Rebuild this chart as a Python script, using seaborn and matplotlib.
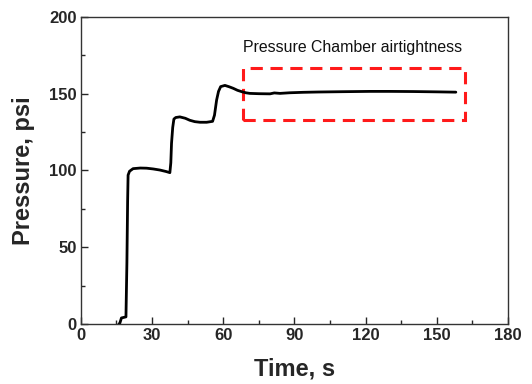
import matplotlib
matplotlib.use("Agg")
import matplotlib.pyplot as plt
import seaborn as sns
import pandas as pd
from matplotlib.patches import Rectangle
from matplotlib.ticker import MultipleLocator

# values
time_s = [16.0, 16.4, 17.1, 19.0, 19.4, 19.7, 19.9, 20.5, 22.0, 25.0, 27.7, 30.5,
          33.3, 36.0, 37.5, 37.9, 38.2, 38.7, 39.2, 40.0, 41.7, 44.0, 45.9, 48.0,
          50.2, 53.0, 55.5, 56.3, 57.2, 58.0, 58.9, 60.7, 62.5, 64.2, 66.0, 67.8,
          69.5, 71.2, 75.0, 79.7, 81.5, 83.9, 88.0, 93.7, 100.0, 110.0, 121.8,
          130.0, 140.0, 150.0, 158.0]
pressure_psi = [0.0, 0.5, 4.0, 4.7, 40.0, 80.0, 97.0, 99.5, 101.2, 101.6, 101.5, 101.0,
                100.3, 99.3, 98.6, 105.0, 117.7, 128.0, 133.5, 134.5, 134.9, 134.0, 132.7, 131.8,
                131.4, 131.4, 132.0, 136.0, 145.9, 151.5, 154.6, 155.4, 154.5, 153.5, 152.2, 151.3,
                150.6, 150.2, 150.0, 149.9, 150.5, 150.2, 150.6, 150.9, 151.1, 151.3, 151.5,
                151.5, 151.4, 151.2, 151.0]

box_x = [68.2, 161.9]
box_y = [132.9, 166.6]
note = "Pressure Chamber airtightness"

sns.set_style("ticks")
plt.rcParams['font.family'] = ['Liberation Sans', 'DejaVu Sans']

df = pd.DataFrame({"Time, s": time_s, "Pressure, psi": pressure_psi})

fig = plt.figure(figsize=(5.32, 3.84), dpi=100)
ax = fig.add_axes([0.152, 0.156, 0.803, 0.80])

sns.lineplot(data=df, x="Time, s", y="Pressure, psi", sort=False, estimator=None,
             color="black", linewidth=2.0, ax=ax)

ax.add_patch(Rectangle((box_x[0], box_y[0]), box_x[1] - box_x[0], box_y[1] - box_y[0],
                       fill=False, edgecolor="#ff1a1a", linewidth=2.2,
                       linestyle=(0, (4, 2.5))))
ax.text(box_x[0], 180, note, fontsize=11.4, va="center", ha="left", color="#111111")

ax.set_xlim(0, 180)
ax.set_ylim(0, 200)
ax.xaxis.set_major_locator(MultipleLocator(30))
ax.xaxis.set_minor_locator(MultipleLocator(15))
ax.yaxis.set_major_locator(MultipleLocator(50))
ax.yaxis.set_minor_locator(MultipleLocator(25))
ax.tick_params(which="both", direction="in", top=False, right=False)
ax.tick_params(which="major", length=5, width=1, labelsize=12, pad=3)
ax.tick_params(which="minor", length=3, width=1)
for lab in ax.get_xticklabels() + ax.get_yticklabels():
    lab.set_fontweight("bold")
for sp in ax.spines.values():
    sp.set_visible(True)
    sp.set_linewidth(1.0)
    sp.set_color("#333333")

ax.set_xlabel("Time, s", fontsize=17, fontweight="bold", labelpad=10)
ax.set_ylabel("Pressure, psi", fontsize=17, fontweight="bold", labelpad=10)

fig.savefig("out.png", dpi=100)
